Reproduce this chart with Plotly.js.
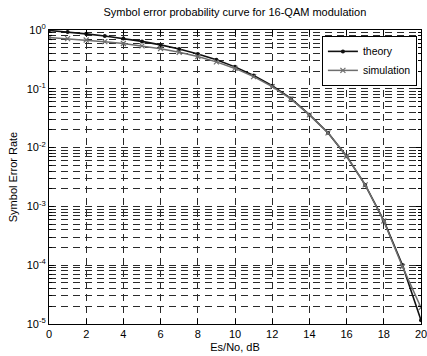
<!DOCTYPE html>
<html>
<head>
<meta charset="utf-8">
<script src="https://cdn.plot.ly/plotly-3.0.1.min.js"></script>
<style>html,body{margin:0;padding:0;background:#fff;}#chart{width:427px;height:356px;}</style>
</head>
<body>
<div id="chart"></div>
<script>
const esNoDb = [0,1,2,3,4,5,6,7,8,9,10,11,12,13,14,15,16,17,18,19,20];
const theorySer = [0.982,0.924,0.860,0.791,0.718,0.640,0.558,0.475,0.392,0.311,0.236,0.169,0.113,0.0686,0.0363,0.0179,0.00716,0.00232,0.000572,0.000101,0.0000116];
const simSer = [0.745,0.712,0.676,0.634,0.590,0.537,0.481,0.419,0.354,0.287,0.222,0.161,0.109,0.0675,0.0360,0.0178,0.00712,0.00232,0.000565,0.000095,0.000019];
const yTickVals = [1e-5,1e-4,1e-3,1e-2,1e-1,1];
const yTickText = ['10<sup>-5</sup>','10<sup>-4</sup>','10<sup>-3</sup>','10<sup>-2</sup>','10<sup>-1</sup>','10<sup>0</sup>'];
const xTickVals = [0,2,4,6,8,10,12,14,16,18,20];

const yMinorVals = [];
for (let e = -5; e < 0; e++) {
  for (let m = 2; m <= 9; m++) yMinorVals.push(m * Math.pow(10, e));
}

const gridColor = '#2a2a2a';
const gridDash = '7px,5px';

const traces = [
  {x: esNoDb, y: theorySer, name: 'theory', type: 'scatter', mode: 'lines+markers',
   line: {color: '#111111', width: 1.6},
   marker: {symbol: 'circle', size: 4, color: '#111111'}},
  {x: esNoDb, y: simSer, name: 'simulation', type: 'scatter', mode: 'lines+markers',
   line: {color: '#6e6e6e', width: 1.5},
   marker: {symbol: 'x-thin', size: 5, color: '#6e6e6e', line: {color: '#6e6e6e', width: 1.2}}}
];

const layout = {
  width: 427, height: 356,
  margin: {l: 49, r: 6, t: 30, b: 32, pad: 0},
  paper_bgcolor: '#ffffff', plot_bgcolor: '#ffffff',
  font: {family: 'Liberation Sans, Arial, sans-serif', size: 11, color: '#000'},
  title: {text: 'Symbol error probability curve for 16-QAM modulation',
          font: {size: 11, color: '#000'}, x: 0.55, xanchor: 'center', y: 0.965, yanchor: 'middle'},
  showlegend: true,
  legend: {x: 0.989, xanchor: 'right', y: 0.98, yanchor: 'top',
           bgcolor: '#ffffff', bordercolor: '#000', borderwidth: 1,
           font: {size: 10.5, color: '#000'}, tracegroupgap: 0, itemwidth: 30},
  xaxis: {
    range: [0, 20], tickmode: 'array', tickvals: xTickVals,
    showgrid: true, gridcolor: gridColor, griddash: gridDash, gridwidth: 1,
    zeroline: false, showline: true, linecolor: '#000', linewidth: 1, mirror: 'ticks',
    ticks: 'inside', ticklen: 5, tickcolor: '#000', ticklabeloverflow: 'allow',
    tickfont: {size: 11, color: '#000'},
    title: {text: 'Es/No, dB', font: {size: 11, color: '#000'}, standoff: 4}
  },
  yaxis: {
    type: 'log', range: [-5, 0], tickmode: 'array', tickvals: yTickVals, ticktext: yTickText,
    showgrid: true, gridcolor: gridColor, griddash: gridDash, gridwidth: 1,
    zeroline: false, showline: true, linecolor: '#000', linewidth: 1, mirror: 'ticks',
    ticks: 'inside', ticklen: 5, tickcolor: '#000',
    tickfont: {size: 11, color: '#000'},
    minor: {tickmode: 'array', tickvals: yMinorVals, ticks: 'inside', ticklen: 3, tickcolor: '#000',
            showgrid: true, gridcolor: gridColor, griddash: gridDash, gridwidth: 1},
    title: {text: 'Symbol Error Rate', font: {size: 11, color: '#000'}, standoff: 6}
  }
};

Plotly.newPlot('chart', traces, layout, {displayModeBar: false, staticPlot: true});
</script>
</body>
</html>
